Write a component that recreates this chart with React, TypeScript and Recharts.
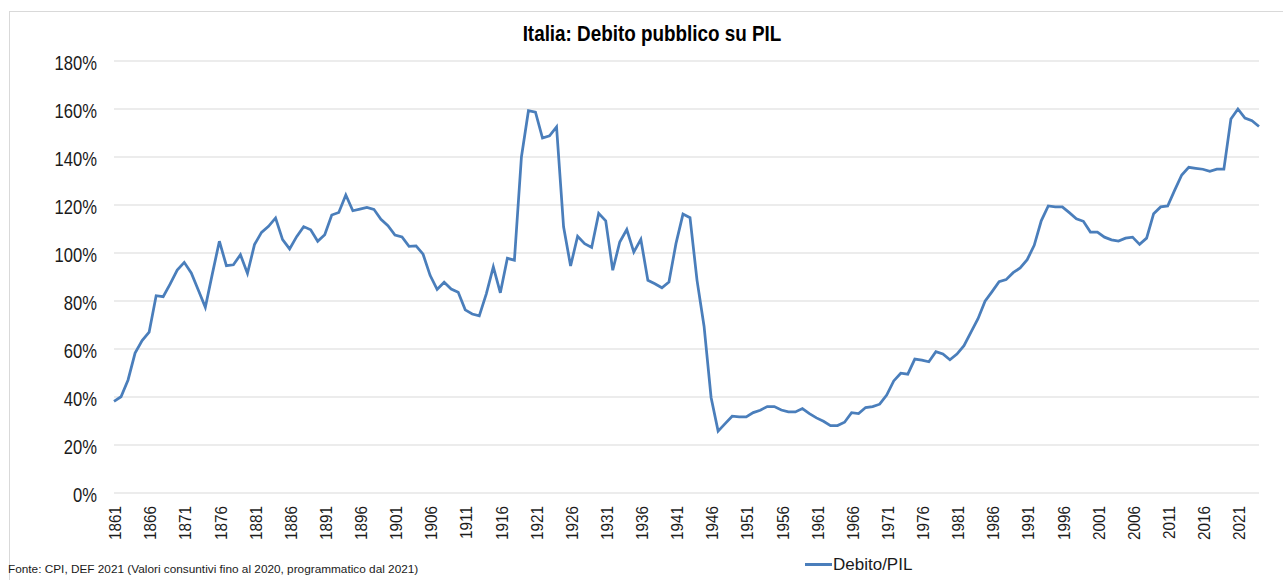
import { CartesianGrid, Line, LineChart, XAxis, YAxis } from "recharts";

const startYear = 1861;

// Debito pubblico / PIL (%), 1861-2024
const debtRatio = [
  38.2, 40.1, 47.1, 58.3, 63.5, 67.0, 82.2, 81.8, 87.1, 92.9,
  96.1, 91.7, 84.6, 77.4, 91.3, 104.9, 94.7, 95.1, 99.3, 91.5,
  103.5, 108.6, 111.1, 114.6, 105.6, 101.7, 106.8, 111.0, 109.7, 104.9,
  107.6, 115.8, 116.9, 124.2, 117.6, 118.3, 119.0, 118.2, 114.0, 111.4,
  107.5, 106.7, 102.8, 103.0, 99.5, 90.7, 84.8, 87.8, 85.0, 83.6,
  76.3, 74.6, 73.8, 83.0, 94.2, 83.4, 97.8, 97.0, 140.0, 159.3,
  158.7, 147.9, 148.8, 152.5, 110.9, 94.6, 107.0, 103.9, 102.3, 116.5,
  113.4, 92.8, 104.6, 109.8, 100.4, 105.7, 88.6, 87.2, 85.5, 87.9,
  103.9, 116.2, 114.7, 88.6, 69.5, 39.8, 25.8, 28.9, 32.0, 31.7,
  31.7, 33.5, 34.5, 36.0, 36.0, 34.6, 33.8, 33.8, 35.2, 33.1,
  31.3, 29.9, 28.1, 28.1, 29.5, 33.5, 33.1, 35.6, 36.0, 37.0,
  40.8, 46.7, 49.9, 49.5, 55.8, 55.4, 54.7, 58.9, 57.9, 55.5,
  57.9, 61.4, 67.0, 72.6, 79.9, 83.9, 88.0, 88.9, 91.8, 93.8,
  97.2, 103.2, 113.4, 119.6, 119.2, 119.2, 116.8, 114.3, 113.2, 108.7,
  108.7, 106.6, 105.5, 105.0, 106.2, 106.6, 103.6, 106.2, 116.4, 119.2,
  119.6, 126.2, 132.5, 135.7, 135.3, 134.9, 134.0, 134.9, 134.9, 155.8,
  160.0, 156.2, 155.1, 152.7
];

const yTicks = [0, 20, 40, 60, 80, 100, 120, 140, 160, 180];

const chartTitle = "Italia: Debito pubblico su PIL";
const seriesName = "Debito/PIL";
const sourceNote =
  "Fonte: CPI, DEF 2021 (Valori consuntivi fino al 2020, programmatico dal 2021)";

const rows = debtRatio.map((value, index) => ({
  year: String(startYear + index),
  debt: value
}));

// no Arial Narrow here, so the sans face gets squeezed by hand
const sans = "'Liberation Sans', Arial, sans-serif";
const lineColor = "#4a7ebb";
const textColor = "#1a1a1a";

function YearTick({ x, y, payload }: any) {
  return (
    <g transform={`translate(${x + 1.5}, ${y}) rotate(-90) scale(0.93, 1)`}>
      <text
        x={0}
        y={0}
        textAnchor="end"
        dominantBaseline="central"
        fill={textColor}
        fontSize={16.5}
        fontFamily={sans}
      >
        {payload.value}
      </text>
    </g>
  );
}

function PercentTick({ x, y, payload }: any) {
  return (
    <g transform={`translate(${x}, ${y + 1.5}) scale(0.79, 1)`}>
      <text
        x={0}
        y={0}
        dy="0.355em"
        textAnchor="end"
        fill={textColor}
        fontSize={21}
        fontFamily={sans}
      >
        {`${payload.value}%`}
      </text>
    </g>
  );
}

export default function App() {
  return (
    <div
      style={{
        position: "relative",
        width: 1283,
        height: 580,
        overflow: "hidden",
        background: "#fff",
        fontFamily: sans
      }}
    >
      <style>{`body { margin: 0; }`}</style>
      <div
        style={{
          position: "absolute",
          left: 9,
          top: 11,
          width: 1320,
          height: 620,
          border: "1px solid #d9d9d9"
        }}
      />
      <div
        style={{
          position: "absolute",
          left: 1.5,
          width: 1300,
          top: 21,
          textAlign: "center",
          fontSize: 22,
          fontWeight: 700,
          color: "#000",
          lineHeight: "26px",
          transform: "scaleX(0.857)",
          transformOrigin: "650px 0"
        }}
      >
        {chartTitle}
      </div>

      <div style={{ position: "absolute", left: 0, top: 0 }}>
        <LineChart
          width={1283}
          height={580}
          data={rows}
          margin={{ top: 61, right: 24, bottom: 0, left: 14 }}
        >
          <CartesianGrid stroke="#d9d9d9" strokeWidth={1} vertical={false} />
          <XAxis
            dataKey="year"
            interval={4}
            tickLine={false}
            axisLine={false}
            tickSize={0}
            tickMargin={13}
            height={87}
            tick={<YearTick />}
          />
          <YAxis
            width={100}
            domain={[0, 180]}
            ticks={yTicks}
            tickLine={false}
            axisLine={false}
            tickSize={0}
            tickMargin={17}
            tick={<PercentTick />}
          />
          <Line
            type="linear"
            dataKey="debt"
            name={seriesName}
            stroke={lineColor}
            strokeWidth={2.75}
            dot={false}
            isAnimationActive={false}
          />
        </LineChart>
      </div>

      <div
        style={{
          position: "absolute",
          left: 8,
          top: 562,
          fontSize: 11.8,
          color: textColor,
          whiteSpace: "nowrap",
          lineHeight: "14px"
        }}
      >
        {sourceNote}
      </div>
      <div
        style={{
          position: "absolute",
          left: 805,
          top: 563,
          width: 27,
          height: 2.5,
          background: lineColor
        }}
      />
      <div
        style={{
          position: "absolute",
          left: 833,
          top: 555,
          fontSize: 17,
          color: textColor,
          lineHeight: "20px",
          whiteSpace: "nowrap"
        }}
      >
        {seriesName}
      </div>
    </div>
  );
}
